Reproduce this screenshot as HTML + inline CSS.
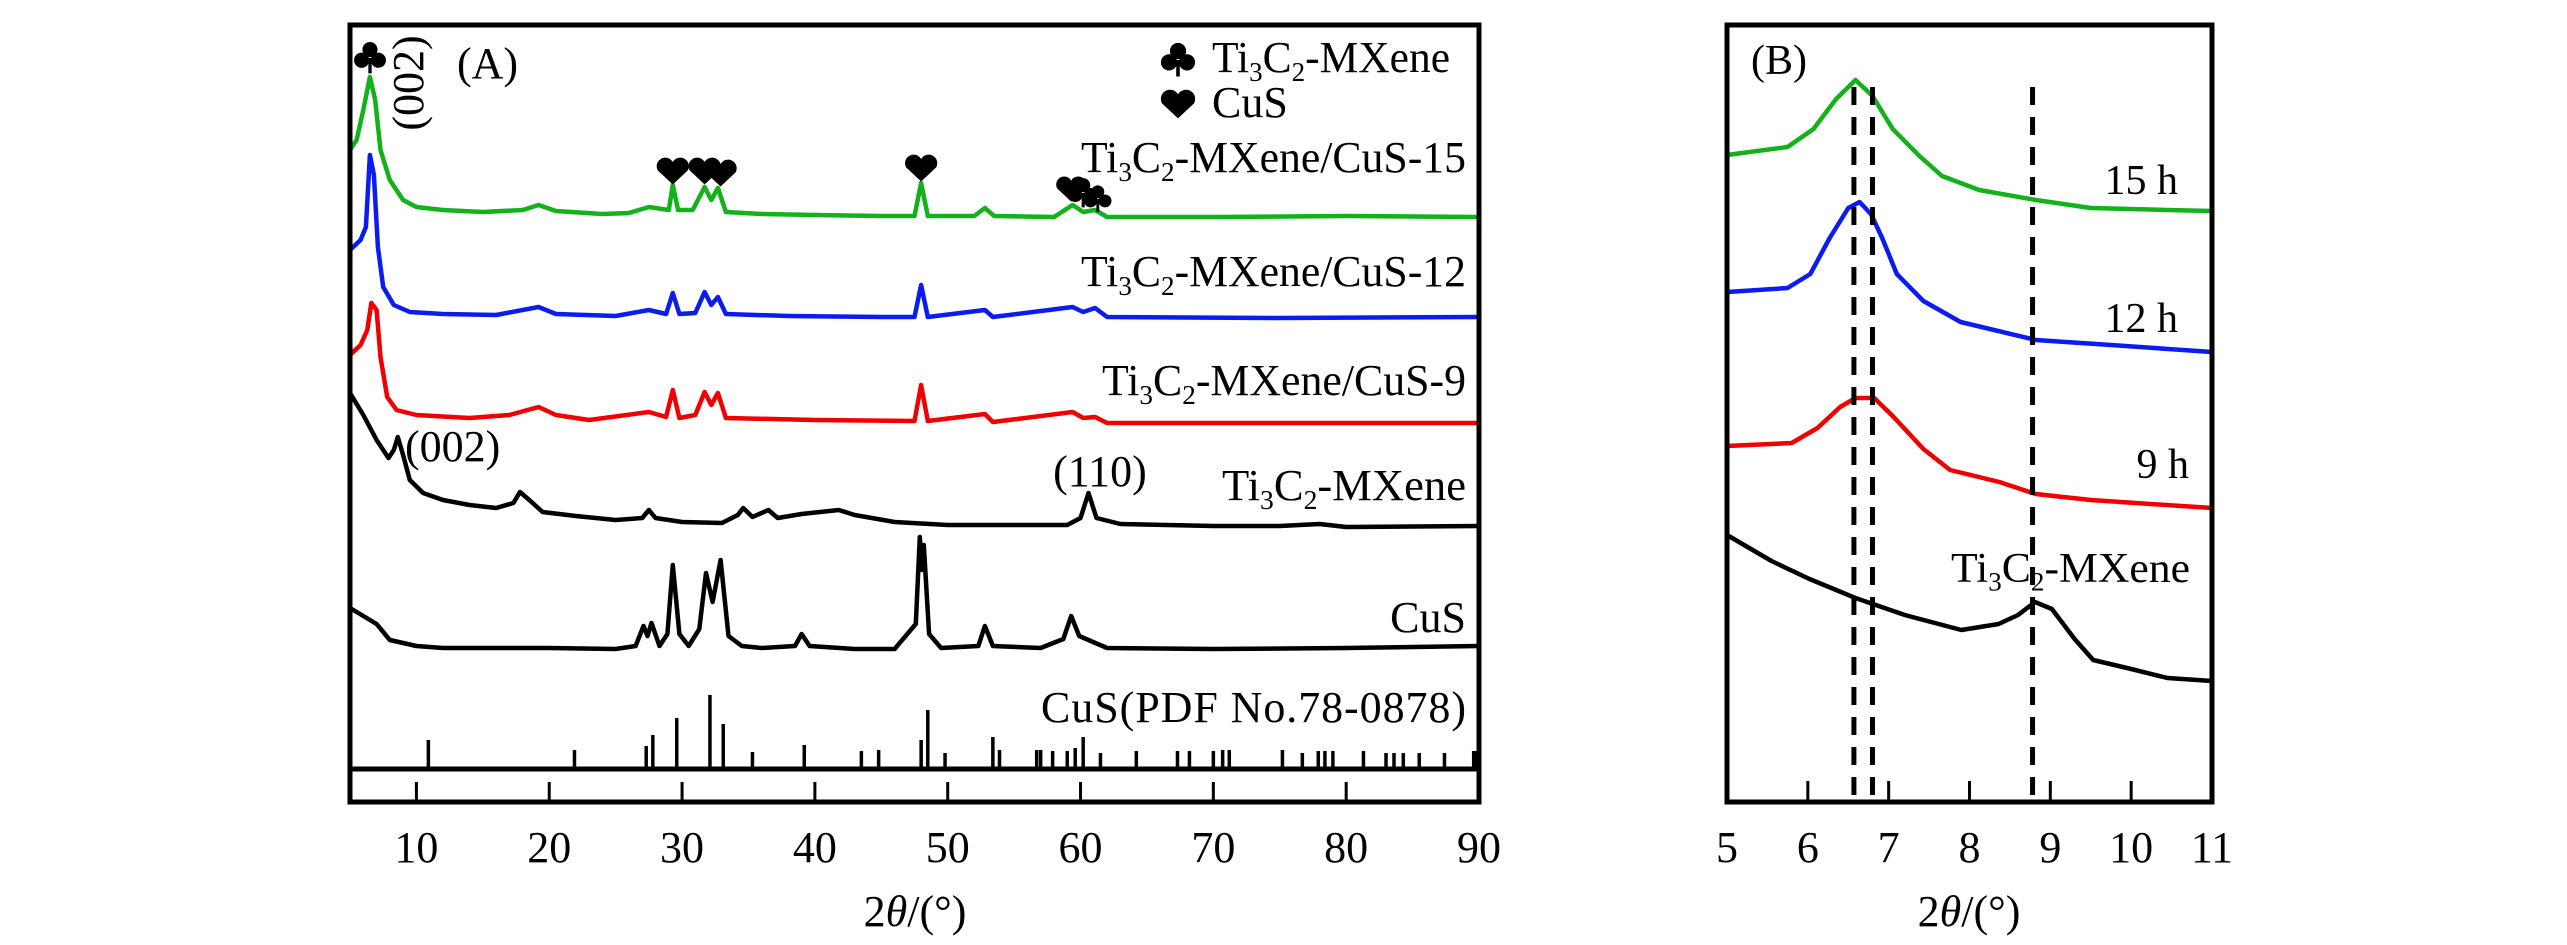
<!DOCTYPE html>
<html><head><meta charset="utf-8"><style>
html,body{margin:0;padding:0;background:#fff;}
svg{display:block;font-family:"Liberation Serif",serif;}
</style></head><body>
<svg id="fig" width="2567" height="945" viewBox="0 0 2567 945" xmlns="http://www.w3.org/2000/svg">
<rect x="0" y="0" width="2567" height="945" fill="#fff"/>
<g id="gA"></g>
<g id="gB"></g>
</svg>
<script>
// ---- Panel A data (2θ in degrees, intensity in a.u., offset-stacked) ----
const aGreenX=[5,5.5,6,6.5,6.9,7.3,8,9,10,12,15,18,19.2,20.5,24,26,27.5,28.5,29,29.3,29.7,30.8,31.7,32.2,32.7,33.3,36,40,45,47.5,48,48.5,52,52.8,53.5,58,59.4,60.2,61.1,62,70,80,90];
const aGreenY=[652,662,692,725,702,652,622,602,595,592,590,592,597,591,588,589,595,593,592,617,592,592,615,602,614,590,588,587,586,586,619,586,586,594,586,585,597,590,592,585,585,586,585];
const aBlueX=[5,5.8,6.2,6.5,6.8,7.1,7.5,8.3,9.5,12,16,19.2,20.5,25,27.5,28.8,29.3,29.8,31,31.7,32.2,32.7,33.3,38,45,47.5,48,48.5,52.8,53.4,59.4,60.2,61.1,62,75,90];
const aBlueY=[552,562,575,647,627,555,515,497,490,488,487,495,488,486,492,488,509,488,489,510,497,505,488,486,485,485,517,485,492,485,495,490,494,485,484,485];
const aRedX=[5,5.8,6.3,6.6,7,7.3,7.8,8.5,10,14,17,19.2,20.5,23,27.5,28.8,29.3,29.8,31,31.7,32.2,32.7,33.3,40,47.5,48,48.5,52.8,53.4,59.4,60.2,61.1,62,75,90];
const aRedY=[447,457,472,499,492,445,405,392,387,384,387,395,387,382,390,385,412,384,387,410,397,409,384,382,381,417,381,388,380,390,384,385,379,379,379];
const aMxX=[5,6,7,7.9,8.3,8.6,9,9.5,10.5,12,14,16,17.3,17.8,18.5,19.5,22,25,27,27.5,28,30,33,34.2,34.6,35.3,36.5,37.2,39,41.8,43,46,50,55,59,60,60.6,61.2,63,70,75,78,80,90];
const aMxY=[409,387,362,344,352,365,347,322,309,302,297,294,299,310,302,290,286,282,284,292,284,280,279,287,294,285,292,284,288,292,287,280,277,277,277,284,309,284,278,276,276,278,275,276];
const aCuSX=[5,6,7,8,10,12,15,20,25,26.5,27.1,27.4,27.7,28.3,28.9,29.3,29.8,30.5,31.3,31.8,32.3,32.9,33.5,34.5,36,38.5,39,39.6,43,46,47.6,47.9,48.05,48.2,48.6,49.5,52.3,52.8,53.4,57,58.7,59.3,59.9,62,70,80,90];
const aCuSY=[194,186,178,162,156,154,154,154,153,156,176,166,179,156,168,237,168,156,173,229,200,242,166,156,154,156,168,156,153,153,178,265,232,257,168,154,156,176,156,154,163,186,166,154,153,154,156];
const stickPos=[10.9,21.9,27.3,27.8,29.6,32.1,33.1,35.3,39.2,43.5,44.8,48.0,48.5,49.8,53.4,53.9,56.7,57.0,57.9,59.0,59.6,60.2,61.5,64.2,67.3,68.2,70.0,70.7,71.2,75.2,76.7,77.9,78.4,79.0,81.3,83.0,83.6,84.3,85.5,87.4,89.6,89.8];
const stickH=[29,19,23,34,51,74,45,17,24,18,19,29,59,16,32,19,19,19,18,18,21,32,16,18,18,18,18,19,19,19,16,18,18,18,18,16,16,16,16,16,18,18];
const stickBase=33;
const aTicks=[10,20,30,40,50,60,70,80,90];
// ---- Panel B data ----
const bGreenX=[5,5.75,6.07,6.35,6.59,6.8,7.05,7.38,7.66,8.12,8.82,9.5,10.45,11];
const bGreenY=[647,655,673,703,722,706,673,646,626,612,602,594,592,591];
const bBlueX=[5,5.75,6.03,6.27,6.5,6.64,6.78,6.92,7.1,7.43,7.89,8.82,9.75,11];
const bBlueY=[510,514,528,564,594,600,588,564,528,501,480,462,457,450];
const bRedX=[5,5.8,6.12,6.4,6.59,6.82,7.05,7.43,7.76,8.37,8.82,9.5,11];
const bRedY=[356,359,374,395,404,404,386,353,332,320,308,302,294];
const bMxX=[5,5.55,6.02,6.59,7.2,7.9,8.36,8.6,8.81,9.02,9.3,9.53,10,10.45,11];
const bMxY=[267,241,223,204,187,172,178,187,200,193,163,142,133,124,121];
const bRefLines=[6.57,6.8,8.78];
const bTicks=[5,6,7,8,9,10,11];

const NS="http://www.w3.org/2000/svg";
const TOP=25,FRAMEBOT=802;
function yS(v){return 802-v;}
const A={x0:350,x1:1479,d0:5,d1:90};
const B={x0:1727,x1:2212,d0:5,d1:11};
function xA(d){return A.x0+(d-A.d0)*(A.x1-A.x0)/(A.d1-A.d0);}
function xB(d){return B.x0+(d-B.d0)*(B.x1-B.x0)/(B.d1-B.d0);}
function mk(tag,attrs,parent){const e=document.createElementNS(NS,tag);for(const k in attrs)e.setAttribute(k,attrs[k]);parent.appendChild(e);return e;}
function line(parent,xs,ys,xf,color,name){
  const pts=xs.map((d,i)=>xf(d).toFixed(1)+","+yS(ys[i]).toFixed(1)).join(" ");
  const p=mk("polyline",{points:pts,fill:"none",stroke:color,"stroke-width":4.5,"stroke-linejoin":"round"},parent);
  
  
}
function txt(parent,x,y,s,size,anchor,name){
  const t=mk("text",{x:x,y:y,"font-size":size,"text-anchor":anchor||"start",fill:"#000"},parent);
  t.textContent=s;
  
  
  return t;
}
function tiText(parent,x,y,suffix,size,anchor,name,len){
  const t=mk("text",{x:x,y:y,"font-size":size,"text-anchor":anchor||"start",fill:"#000"},parent);
  if(len){t.setAttribute("textLength",len);t.setAttribute("lengthAdjust","spacingAndGlyphs");}
  
  
  const sh=size*0.2;
  const parts=[["Ti",0,size],["3",sh,size*0.62],["C",-sh,size],["2",sh,size*0.62],[suffix,-sh,size]];
  parts.forEach(p=>{const s=mk("tspan",{"font-size":p[2],dy:p[1]},t);s.textContent=p[0];});
  return t;
}
function club(parent,cx,cy,s,name){
  const g=mk("g",{},parent);
  
  
  mk("circle",{cx:cx,cy:cy-s*0.3,r:s*0.27},g);
  mk("circle",{cx:cx-s*0.3,cy:cy+s*0.08,r:s*0.27},g);
  mk("circle",{cx:cx+s*0.3,cy:cy+s*0.08,r:s*0.27},g);
  mk("rect",{x:cx-s*0.06,y:cy,width:s*0.12,height:s*0.55},g);
}
function heart(parent,cx,cy,s,name){
  const p=mk("path",{d:`M${cx},${cy+s*0.45} L${cx-s*0.5},${cy-s*0.02} A${s*0.26},${s*0.26} 0 0 1 ${cx},${cy-s*0.3} A${s*0.26},${s*0.26} 0 0 1 ${cx+s*0.5},${cy-s*0.02} Z`,fill:"#000"},parent);
  
  
}

// ---- Panel A ----
const gA=document.getElementById("gA");
line(gA,aGreenX,aGreenY,xA,"#13b21b","series-mxene-cus-15");
line(gA,aBlueX,aBlueY,xA,"#0a1cf0","series-mxene-cus-12");
line(gA,aRedX,aRedY,xA,"#f00000","series-mxene-cus-9");
line(gA,aMxX,aMxY,xA,"#000","series-ti3c2-mxene");
line(gA,aCuSX,aCuSY,xA,"#000","series-cus");
stickPos.forEach((d,i)=>{
  const r=mk("line",{x1:xA(d),x2:xA(d),y1:yS(stickBase),y2:yS(stickBase+stickH[i]),stroke:"#000","stroke-width":3.5},gA);
  
  
});
const sb=mk("line",{x1:A.x0,x2:A.x1,y1:yS(stickBase),y2:yS(stickBase),stroke:"#000","stroke-width":5},gA);


aTicks.forEach(d=>{
  const t=mk("line",{x1:xA(d),x2:xA(d),y1:FRAMEBOT,y2:FRAMEBOT-20,stroke:"#000","stroke-width":3},gA);
  
  
  txt(gA,xA(d),862,String(d),44,"middle","x-tick-label-a");
});
const fA=mk("rect",{x:A.x0,y:TOP,width:A.x1-A.x0,height:FRAMEBOT-TOP,fill:"none",stroke:"#000","stroke-width":5},gA);


txt(gA,457,78,"(A)",44,"start","panel-a-label");
const r002=txt(gA,0,0,"(002)",44,"middle","peak-label-002-rotated");
r002.setAttribute("transform","translate(423,83) rotate(-90)");
txt(gA,405,461,"(002)",44,"start","peak-label-002-mxene");
txt(gA,1100,486,"(110)",44,"middle","peak-label-110");
// legend
club(gA,1178,60,30,"legend-club-marker");
tiText(gA,1212,72,"-MXene",44,"start","legend-ti3c2-mxene",238);
heart(gA,1178,104,32,"legend-heart-marker");
txt(gA,1212,117,"CuS",44,"start","legend-cus");
// series labels
tiText(gA,1466,172,"-MXene/CuS-15",44,"end","label-mxene-cus-15",385);
tiText(gA,1466,286,"-MXene/CuS-12",44,"end","label-mxene-cus-12",385);
tiText(gA,1466,395,"-MXene/CuS-9",44,"end","label-mxene-cus-9",364);
tiText(gA,1466,500,"-MXene",44,"end","label-ti3c2-mxene",244);
txt(gA,1466,632,"CuS",44,"end","label-cus");
txt(gA,1466,722,"CuS(PDF No.78-0878)",44,"end","label-cus-pdf").setAttribute("textLength",425);
// markers
club(gA,370,58,28,"marker-club-002");
heart(gA,xA(29.3),171,30,"marker-heart-29");
heart(gA,xA(31.7),171,30,"marker-heart-31");
heart(gA,xA(32.9),173,30,"marker-heart-33");
heart(gA,xA(48),168,30,"marker-heart-48");
heart(gA,xA(59.3),189,28,"marker-heart-59");
club(gA,xA(60.2),193,26,"marker-club-60");
club(gA,xA(61.3),199,24,"marker-club-61");
const tA=txt(gA,915,926,"",44,"middle","x-axis-title-a");
tA.innerHTML='2<tspan font-style="italic">θ</tspan>/(°)';

// ---- Panel B ----
const gB=document.getElementById("gB");
line(gB,bGreenX,bGreenY,xB,"#13b21b","series-b-15h");
line(gB,bBlueX,bBlueY,xB,"#0a1cf0","series-b-12h");
line(gB,bRedX,bRedY,xB,"#f00000","series-b-9h");
line(gB,bMxX,bMxY,xB,"#000","series-b-ti3c2-mxene");
bRefLines.forEach(d=>{
  const l=mk("line",{x1:xB(d),x2:xB(d),y1:87,y2:FRAMEBOT,stroke:"#000","stroke-width":5,"stroke-dasharray":"18 12"},gB);
  
  
});
bTicks.forEach(d=>{
  if(d>5&&d<11){
    const t=mk("line",{x1:xB(d),x2:xB(d),y1:FRAMEBOT,y2:FRAMEBOT-21,stroke:"#000","stroke-width":3},gB);
    
    
  }
  txt(gB,xB(d),862,String(d),44,"middle","x-tick-label-b");
});
const fB=mk("rect",{x:B.x0,y:TOP,width:B.x1-B.x0,height:FRAMEBOT-TOP,fill:"none",stroke:"#000","stroke-width":5},gB);


txt(gB,1751,74,"(B)",42,"start","panel-b-label");
txt(gB,2178,194,"15 h",42,"end","label-15h");
txt(gB,2178,332,"12 h",42,"end","label-12h");
txt(gB,2189,478,"9 h",42,"end","label-9h");
tiText(gB,2190,582,"-MXene",42,"end","label-b-ti3c2-mxene",239);
const tB=txt(gB,1969,926,"",44,"middle","x-axis-title-b");
tB.innerHTML='2<tspan font-style="italic">θ</tspan>/(°)';
</script>
</body></html>
